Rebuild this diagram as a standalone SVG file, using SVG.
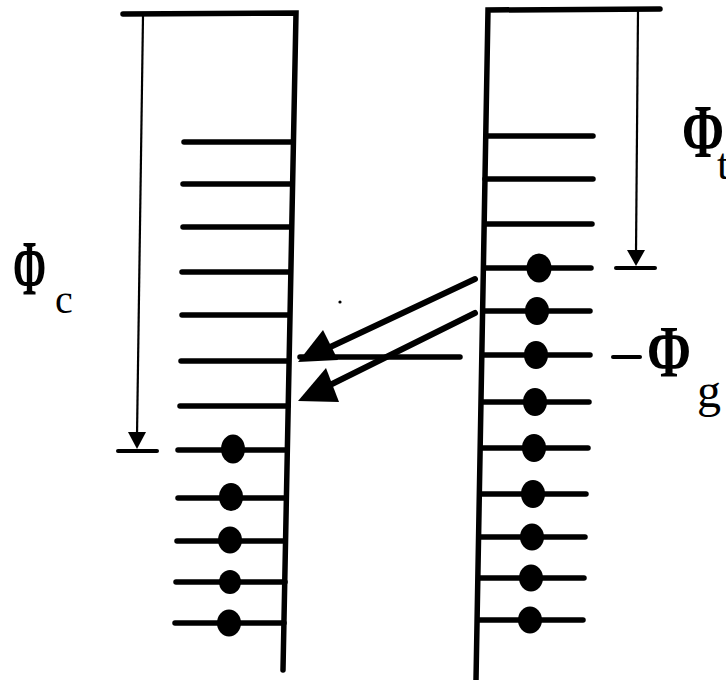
<svg xmlns="http://www.w3.org/2000/svg" width="726" height="680" viewBox="0 0 726 680">
  <style>
    .frame { stroke: #000; stroke-width: 5.5; fill: none; stroke-linecap: round; }
    .rung { stroke: #000; stroke-width: 5.5; fill: none; stroke-linecap: round; }
    .dim { stroke: #000; stroke-width: 2.2; fill: none; }
    .bar { stroke: #000; stroke-width: 4; fill: none; stroke-linecap: round; }
    .shaft { stroke: #000; stroke-width: 6; fill: none; stroke-linecap: round; }
    .dot { fill: #000; }
    .sym { font-family: "Liberation Serif", "DejaVu Serif", serif; fill: #000; }
    .big { font-weight: bold; }
  </style>
  <rect width="726" height="680" fill="#fff"/>

  <!-- left comb: bracket, rungs and filled sites -->
  <g id="left-comb">
    <path class="frame" d="M123,14 L296,13 L283,670"/>
    <g class="rung">
      <line x1="184" y1="142" x2="292" y2="142"/>
      <line x1="183" y1="184" x2="292" y2="184"/>
      <line x1="183" y1="227" x2="291" y2="227"/>
      <line x1="182" y1="272" x2="290" y2="272"/>
      <line x1="182" y1="315" x2="289" y2="315"/>
      <line x1="181" y1="361" x2="288" y2="361"/>
      <line x1="180" y1="406" x2="288" y2="406"/>
      <line x1="178" y1="450" x2="287" y2="450"/>
      <line x1="178" y1="498" x2="286" y2="498"/>
      <line x1="177" y1="541" x2="285" y2="541"/>
      <line x1="176" y1="582" x2="285" y2="582"/>
      <line x1="175" y1="623" x2="284" y2="623"/>
    </g>
    <g class="dot">
      <ellipse cx="233" cy="449" rx="12" ry="14.5"/>
      <ellipse cx="231" cy="497" rx="12" ry="14"/>
      <ellipse cx="230" cy="540" rx="12" ry="13.5"/>
      <ellipse cx="230" cy="582" rx="11" ry="12"/>
      <ellipse cx="229" cy="623" rx="12" ry="13.5"/>
    </g>
  </g>

  <!-- right comb: bracket, rungs and filled sites -->
  <g id="right-comb">
    <path class="frame" d="M660,9 L488,10 L476,680"/>
    <g class="rung">
      <line x1="486" y1="136" x2="593" y2="136"/>
      <line x1="485" y1="179" x2="593" y2="179"/>
      <line x1="485" y1="224" x2="592" y2="224"/>
      <line x1="484" y1="268" x2="591" y2="268"/>
      <line x1="483" y1="311" x2="590" y2="311"/>
      <line x1="483" y1="355" x2="590" y2="355"/>
      <line x1="482" y1="402" x2="589" y2="402"/>
      <line x1="481" y1="448" x2="588" y2="448"/>
      <line x1="480" y1="494" x2="586" y2="494"/>
      <line x1="479" y1="537" x2="585" y2="537"/>
      <line x1="479" y1="578" x2="584" y2="578"/>
      <line x1="478" y1="620" x2="583" y2="620"/>
    </g>
    <g class="dot">
      <ellipse cx="539" cy="268" rx="12.5" ry="14.5"/>
      <ellipse cx="537" cy="311" rx="12" ry="14"/>
      <ellipse cx="536" cy="355" rx="12" ry="14"/>
      <ellipse cx="535" cy="402" rx="12" ry="14"/>
      <ellipse cx="534" cy="448" rx="12" ry="14"/>
      <ellipse cx="533" cy="494" rx="12" ry="14"/>
      <ellipse cx="532" cy="537" rx="12" ry="13.5"/>
      <ellipse cx="531" cy="578" rx="12" ry="13.5"/>
      <ellipse cx="530" cy="620" rx="12" ry="13.5"/>
    </g>
  </g>

  <!-- level dimension for the left comb -->
  <g id="phi-c">
    <line class="dim" x1="143" y1="16" x2="137" y2="436"/>
    <polygon points="128,432 146,432 137,449"/>
    <line class="bar" x1="118" y1="451" x2="157" y2="451"/>
    <text class="sym big" x="13" y="294" font-size="78" textLength="33" lengthAdjust="spacingAndGlyphs">Φ</text>
    <text class="sym" x="55" y="313" font-size="40">c</text>
  </g>

  <!-- level dimension for the right comb -->
  <g id="phi-t">
    <line class="dim" x1="638" y1="11" x2="636" y2="252"/>
    <polygon points="627,250 645,250 636,266"/>
    <line class="bar" x1="616" y1="268" x2="655" y2="268"/>
    <text class="sym big" x="682" y="157" font-size="76" textLength="42" lengthAdjust="spacingAndGlyphs">Φ</text>
    <text class="sym" x="717" y="179" font-size="44">t</text>
  </g>

  <!-- gap level marker -->
  <g id="phi-g">
    <line class="bar" x1="613" y1="357" x2="640" y2="357"/>
    <text class="sym big" x="647" y="377" font-size="74" textLength="44" lengthAdjust="spacingAndGlyphs">Φ</text>
    <text class="sym" x="697" y="407" font-size="48">g</text>
  </g>

  <!-- transfer arrows between the combs -->
  <g id="connectors">
    <line class="shaft" x1="475" y1="279" x2="326" y2="349"/>
    <polygon points="298,362 323,330 338,360"/>
    <line class="rung" x1="300" y1="357" x2="460" y2="357"/>
    <line class="shaft" x1="475" y1="313" x2="326" y2="387"/>
    <polygon points="298,401 326,368 339,402"/>
    <circle cx="340" cy="302" r="1.6"/>
  </g>
</svg>
